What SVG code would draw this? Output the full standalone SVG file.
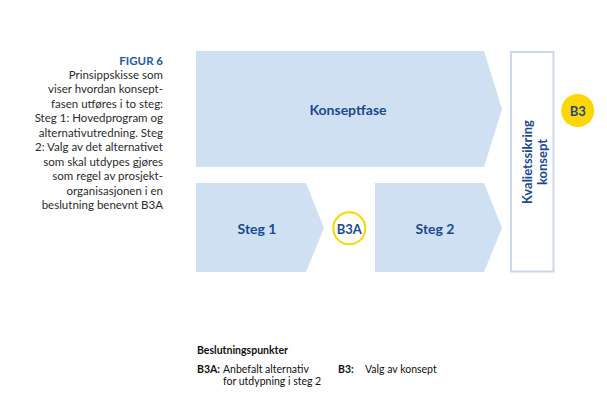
<svg xmlns="http://www.w3.org/2000/svg" width="607" height="404" viewBox="0 0 607 404">
<style>
.cap{font-family:Lato,"Liberation Sans",sans-serif;font-size:11.5px;fill:#2b2b2b;text-anchor:end}
.capt{font-family:Lato,"Liberation Sans",sans-serif;font-size:11.5px;font-weight:bold;fill:#1f5aa0;text-anchor:end}
.shape{fill:#cfe0f3}
.lbl{font-family:Lato,"Liberation Sans",sans-serif;font-weight:bold;fill:#1a4a8c;text-anchor:middle;dominant-baseline:central}
.big{font-size:14px}
.qa{fill:#ffffff;stroke:#cbd8ea;stroke-width:2}
.leg{font-family:Lato,"Liberation Sans",sans-serif;font-size:10.5px;fill:#111}
.legb{font-family:Lato,"Liberation Sans",sans-serif;font-size:10.5px;font-weight:bold;fill:#111}
</style>
<rect width="607" height="404" fill="#ffffff"/>
<g id="caption">
<text class="capt" x="163" y="65">FIGUR 6</text>
<text class="cap" x="163" y="78.5">Prinsippskisse som</text>
<text class="cap" x="163" y="93">viser hvordan konsept-</text>
<text class="cap" x="163" y="107.5">fasen utføres i to steg:</text>
<text class="cap" x="163" y="122">Steg 1: Hovedprogram og</text>
<text class="cap" x="163" y="136.5">alternativutredning. Steg</text>
<text class="cap" x="163" y="151">2: Valg av det alternativet</text>
<text class="cap" x="163" y="165.5">som skal utdypes gjøres</text>
<text class="cap" x="163" y="180">som regel av prosjekt-</text>
<text class="cap" x="163" y="194.5">organisasjonen i en</text>
<text class="cap" x="163" y="209">beslutning benevnt B3A</text>
</g>
<g id="konseptfase">
<polygon class="shape" points="196,51 484,51 502,109 484,167 196,167"/>
<text class="lbl big" x="348" y="109">Konseptfase</text>
</g>
<g id="steg1">
<polygon class="shape" points="196,183 306,183 324,228 306,272 196,272"/>
<text class="lbl big" x="257" y="228">Steg 1</text>
</g>
<g id="b3a">
<circle cx="349.3" cy="228.3" r="16" fill="#ffffff" stroke="#f5d800" stroke-width="2"/>
<text class="lbl" x="349.3" y="228.5" font-size="13">B3A</text>
</g>
<g id="steg2">
<polygon class="shape" points="375,183 484,183 502,228 484,272 375,272"/>
<text class="lbl big" x="435" y="228">Steg 2</text>
</g>
<g id="kvalitetssikring">
<rect class="qa" x="511" y="52" width="42.5" height="219.5"/>
<text class="lbl" font-size="13" transform="translate(527,162) rotate(-90)">Kvalietssikring</text>
<text class="lbl" font-size="13" transform="translate(542,162) rotate(-90)">konsept</text>
</g>
<g id="b3">
<circle cx="577.7" cy="110.5" r="16.5" fill="#ffd700"/>
<text class="lbl" x="577.7" y="110.7" font-size="13">B3</text>
</g>
<g id="connectors"></g>
<g id="legend">
<text class="legb" x="197" y="354">Beslutningspunkter</text>
<text class="legb" x="197" y="373">B3A:</text>
<text class="leg" x="223" y="373">Anbefalt alternativ</text>
<text class="leg" x="223" y="384.5">for utdypning i steg 2</text>
<text class="legb" x="338" y="373">B3:</text>
<text class="leg" x="365" y="373">Valg av konsept</text>
</g>
</svg>
